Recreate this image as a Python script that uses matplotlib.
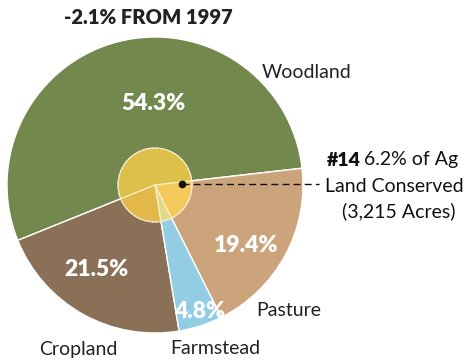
import matplotlib.pyplot as plt
import numpy as np

# land use shares, counterclockwise from the Woodland/Pasture edge
labels = ["Woodland", "Cropland", "Farmstead", "Pasture"]
shares = [54.3, 21.5, 4.8, 19.4]
pct_labels = ["54.3%", "21.5%", "4.8%", "19.4%"]

title = "-2.1% FROM 1997"
rank = "#14"
conserved_pct = 6.2
conserved_acres = 3215

colors = ["#72884C", "#8A7057", "#93CDE3", "#CCA47C"]
inner_colors = ["#DCC04A", "#E2B84A", "#E3D88A", "#F2C95A"]

plt.rcParams['font.family'] = ['Lato', 'DejaVu Sans']

fig = plt.figure(figsize=(4.66, 3.61), dpi=100)
ax = fig.add_axes([0, 0, 1, 1])

R = 148.0
cx, cy = 155.0, 185.0


def px(x, y):
    # pixel position (top-left origin) -> pie units
    return (x - cx) / R, (cy - y) / R


start = 6.5
ax.pie(shares, colors=colors, startangle=start, counterclock=True, radius=1.0,
       wedgeprops=dict(edgecolor="white", linewidth=1.0))

# inner highlight circle
inner, _ = ax.pie(shares, colors=inner_colors, startangle=start, counterclock=True,
                  radius=0.25, wedgeprops=dict(edgecolor="#FBF0C8", linewidth=0.8))
circle = plt.Circle((0, 0), 0.25, fill=False, edgecolor="#F4F0E0", linewidth=0.8,
                    linestyle=(0, (2, 1.5)), zorder=5)
ax.add_patch(circle)

ax.set_xlim(-cx / R, (466 - cx) / R)
ax.set_ylim((cy - 361) / R, cy / R)
ax.set_aspect("equal")
ax.axis("off")

# percentage labels inside wedges
pct_pos = [(153, 104), (96, 270), (200, 312), (246, 245)]
for txt, (x, y) in zip(pct_labels, pct_pos):
    ax.text(*px(x, y), txt, color="white", fontsize=16.5, fontweight="heavy",
            ha="center", va="center")

# category names outside
name_pos = [(307, 72), (78, 349), (215, 349), (289, 311)]
for txt, (x, y) in zip(labels, name_pos):
    ax.text(*px(x, y), txt, color="#222222", fontsize=14,
            ha="center", va="center")

ax.text(*px(148, 18), title, color="#222222", fontsize=14.5, fontweight="heavy",
        ha="center", va="center")

# conserved callout
dot = px(182, 184)
ax.plot(*dot, "o", color="#111111", markersize=4.5, zorder=6)
ax.plot([dot[0], px(319, 184)[0]], [dot[1], dot[1]], color="#111111",
        linewidth=1.0, linestyle=(0, (5, 3)), zorder=6)
ax.text(*px(327, 160), rank, color="#111111", fontsize=14, fontweight="heavy",
        ha="left", va="center")
ax.text(*px(364, 160), f"{conserved_pct}% of Ag", color="#111111", fontsize=14,
        ha="left", va="center")
ax.text(*px(394, 186), "Land Conserved", color="#111111", fontsize=14,
        ha="center", va="center")
ax.text(*px(399, 211), f"({conserved_acres:,} Acres)", color="#111111",
        fontsize=14, ha="center", va="center")

fig.savefig("out.png", dpi=100)
